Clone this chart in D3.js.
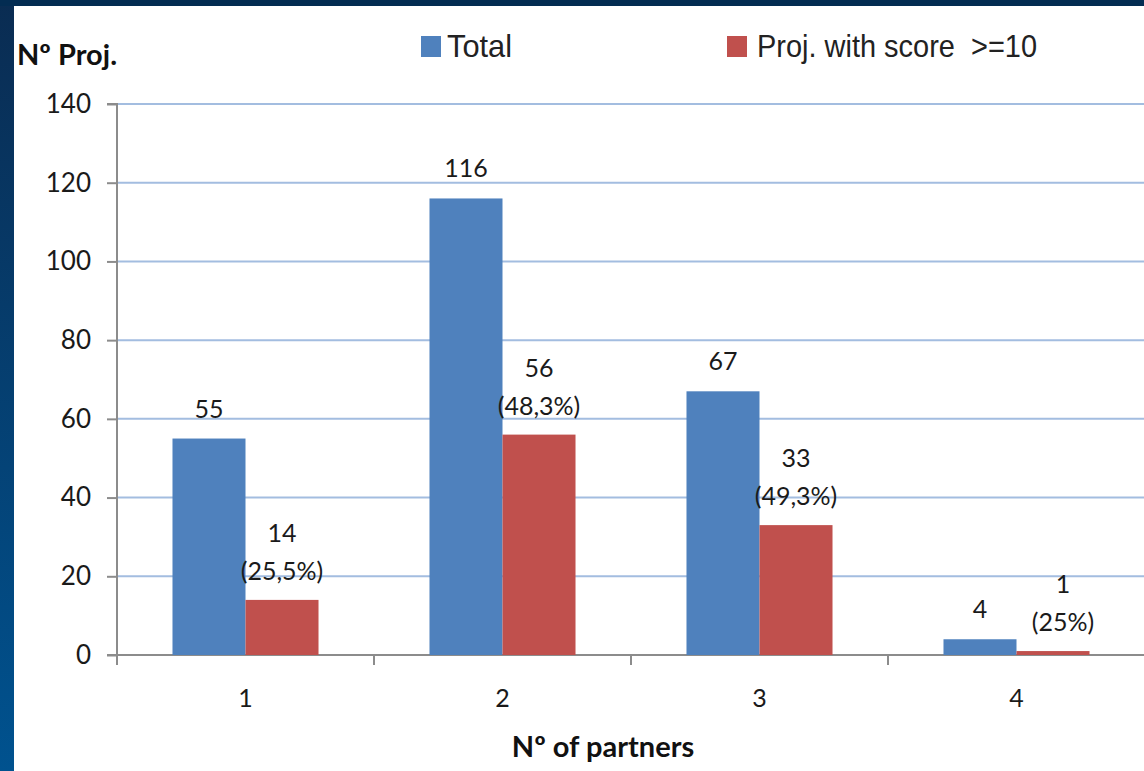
<!DOCTYPE html>
<html><head><meta charset="utf-8">
<script src="https://cdn.jsdelivr.net/npm/d3@7"></script>
<style>
html,body{margin:0;padding:0;background:#fff;}
svg{display:block;}
</style></head>
<body>
<svg id="chart" width="1144" height="771"></svg>
<script>
const categories = ["1", "2", "3", "4"];
const seriesNames = ["Total", "Proj. with score  >=10"];
const totalValues = [55, 116, 67, 4];
const scoreValues = [14, 56, 33, 1];
const scorePctLabels = ["(25,5%)", "(48,3%)", "(49,3%)", "(25%)"];
const yTicks = [0, 20, 40, 60, 80, 100, 120, 140];
const colors = ["#4f81bd", "#c0504d"];

const svg = d3.select("#chart");
const W = 1144, H = 771;

// background frame
const defs = svg.append("defs");
const grad = defs.append("linearGradient").attr("id", "band").attr("x1", 0).attr("y1", 0).attr("x2", 0).attr("y2", 1);
grad.append("stop").attr("offset", "0%").attr("stop-color", "#0a2c52");
grad.append("stop").attr("offset", "100%").attr("stop-color", "#00528f");
svg.append("rect").attr("width", W).attr("height", H).attr("fill", "#fff");
svg.append("rect").attr("x", 0).attr("y", 0).attr("width", 14).attr("height", H).attr("fill", "url(#band)");
svg.append("rect").attr("x", 0).attr("y", 0).attr("width", W).attr("height", 6).attr("fill", "#032c52");

const plot = {left: 117, right: 1145, top: 104, bottom: 655};
const y = d3.scaleLinear().domain([0, 140]).range([plot.bottom, plot.top]);
const x = d3.scaleBand().domain(categories).range([plot.left, plot.right]).paddingInner(0).paddingOuter(0);
const x1 = d3.scaleBand().domain([0, 1]).range([0, x.bandwidth()]).paddingInner(0).paddingOuter(0.76);

const numFont = "Lato, 'Open Sans', sans-serif";

// gridlines
svg.append("g").selectAll("line").data(yTicks.filter(d => d > 0)).join("line")
  .attr("x1", plot.left).attr("x2", W)
  .attr("y1", d => y(d)).attr("y2", d => y(d))
  .attr("stroke", "#a3bde0").attr("stroke-width", 2);

// y axis
const yAxis = d3.axisLeft(y).tickValues(yTicks).tickSize(10).tickPadding(16);
const gy = svg.append("g").attr("transform", `translate(${plot.left},0)`).call(yAxis);
gy.select(".domain").attr("stroke", "#8c8c8c").attr("stroke-width", 2).attr("d", `M-10,${plot.top}H0V${plot.bottom}`);
gy.selectAll(".tick line").attr("stroke", "#8c8c8c").attr("stroke-width", 2);
gy.selectAll(".tick text").attr("font-family", numFont).attr("font-size", 26).attr("fill", "#1a1a1a");

// x axis
const gx = svg.append("g").attr("transform", `translate(0,${plot.bottom})`);
gx.append("line").attr("x1", plot.left - 10).attr("x2", W).attr("y1", 0).attr("y2", 0)
  .attr("stroke", "#8c8c8c").attr("stroke-width", 2);
const bounds = categories.map(c => x(c)).concat([x(categories[3]) + x.bandwidth()]);
gx.selectAll("line.tk").data(bounds).join("line").attr("class", "tk")
  .attr("x1", d => d).attr("x2", d => d).attr("y1", 0).attr("y2", 10)
  .attr("stroke", "#8c8c8c").attr("stroke-width", 2);
gx.selectAll("text").data(categories).join("text")
  .attr("x", d => x(d) + x.bandwidth() / 2).attr("y", 52)
  .attr("text-anchor", "middle").attr("font-family", numFont).attr("font-size", 25).attr("fill", "#1a1a1a")
  .text(d => d);

// bars
const series = [totalValues, scoreValues];
series.forEach((vals, si) => {
  svg.append("g").selectAll("rect").data(categories).join("rect")
    .attr("x", (c) => x(c) + x1(si))
    .attr("width", x1.bandwidth())
    .attr("y", (c, i) => y(vals[i]))
    .attr("height", (c, i) => y(0) - y(vals[i]))
    .attr("fill", colors[si]);
});

// data labels
const lbl = svg.append("g").attr("font-family", numFont).attr("font-size", 25).attr("fill", "#1a1a1a").attr("text-anchor", "middle");
categories.forEach((c, i) => {
  const cx0 = x(c) + x1(0) + x1.bandwidth() / 2;
  lbl.append("text").attr("x", cx0).attr("y", y(totalValues[i]) - 21).text(totalValues[i]);
  const cx1 = x(c) + x1(1) + x1.bandwidth() / 2 + (i === 3 ? 10 : 0);
  lbl.append("text").attr("x", cx1).attr("y", y(scoreValues[i]) - 58).text(scoreValues[i]);
  lbl.append("text").attr("x", cx1).attr("y", y(scoreValues[i]) - 20).text(scorePctLabels[i]);
});

// titles
svg.append("text").attr("x", 17).attr("y", 65).attr("font-family", numFont).attr("font-weight", 700)
  .attr("font-size", 29).attr("fill", "#111").text("Nº Proj.");
svg.append("text").attr("x", 603).attr("y", 757).attr("text-anchor", "middle").attr("font-family", numFont).attr("font-weight", 700)
  .attr("font-size", 29).attr("fill", "#111").text("Nº of partners");

// legend
const legendX = [421, 727];
const legendTextLen = [65, 280];
const lg = svg.append("g");
seriesNames.forEach((name, i) => {
  lg.append("rect").attr("x", legendX[i]).attr("y", 36).attr("width", 20).attr("height", 21).attr("fill", colors[i]);
  lg.append("text").attr("x", legendX[i] + (i === 0 ? 26 : 30)).attr("y", 57)
    .attr("font-family", "'Liberation Sans', Arial, sans-serif")
    .attr("font-size", 32).attr("fill", "#222").style("white-space", "pre")
    .attr("textLength", legendTextLen[i]).attr("lengthAdjust", "spacingAndGlyphs")
    .text(name);
});
</script>
</body></html>
